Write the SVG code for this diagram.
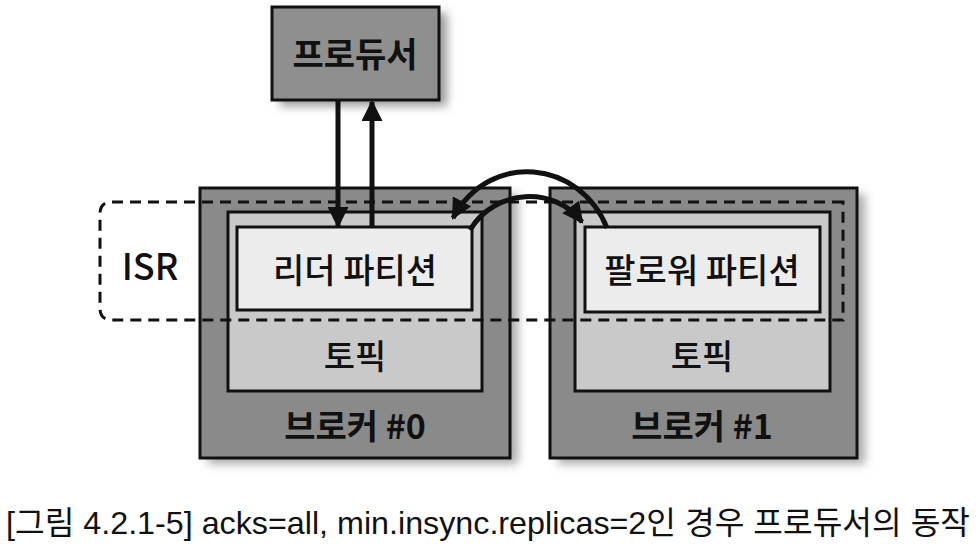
<svg xmlns="http://www.w3.org/2000/svg" width="980" height="552" viewBox="0 0 980 552">
<style>
.lbl{font-family:"Noto Sans CJK KR","Noto Sans",sans-serif;fill:#111;text-anchor:middle;dominant-baseline:central;font-weight:500}
.b{font-weight:bold}
.box{stroke:#111;stroke-width:3}
.conn{fill:none;stroke:#111;stroke-width:5}
</style>
<defs>
<marker id="ah" viewBox="0 0 10 10" refX="9" refY="5" markerWidth="4.2" markerHeight="4.2" orient="auto" markerUnits="strokeWidth">
<path d="M0,0 L10,5 L0,10 z" fill="#111"/>
</marker>
<filter id="sh" x="-10%" y="-10%" width="130%" height="130%">
<feGaussianBlur stdDeviation="5"/>
</filter>
</defs>
<rect width="980" height="552" fill="#fff"/>
<g id="producer">
<rect x="280" y="13" width="167" height="93" fill="#999" filter="url(#sh)"/>
<rect class="box" x="272" y="7" width="167" height="93" fill="#8f8f8f"/>
<text class="lbl b" x="355" y="52" font-size="34">프로듀서</text>
</g>
<g id="broker0">
<rect x="208" y="194" width="310" height="270" fill="#aaa" filter="url(#sh)"/>
<rect class="box" x="200" y="188" width="310" height="270" fill="#8a8a8a"/>
<rect class="box" x="228" y="212" width="254" height="179" fill="#c9c9c9"/>
<text class="lbl" x="355" y="354" font-size="34">토픽</text>
<text class="lbl b" x="355" y="424" font-size="34">브로커 #0</text>
</g>
<g id="leader">
<rect class="box" x="237" y="227" width="235" height="83" fill="#ececec"/>
<text class="lbl" x="355" y="268" font-size="34">리더 파티션</text>
</g>
<g id="broker1">
<rect x="558" y="194" width="307" height="270" fill="#aaa" filter="url(#sh)"/>
<rect class="box" x="550" y="188" width="307" height="270" fill="#8a8a8a"/>
<rect class="box" x="575" y="212" width="255" height="179" fill="#c9c9c9"/>
<text class="lbl" x="702" y="354" font-size="34">토픽</text>
<text class="lbl b" x="702" y="424" font-size="34">브로커 #1</text>
</g>
<g id="follower">
<rect class="box" x="585" y="227" width="235" height="85" fill="#ececec"/>
<text class="lbl" x="702" y="268" font-size="34">팔로워 파티션</text>
</g>
<g id="isr">
<path d="M843,202 L112,202 Q100,202 100,214 L100,308 Q100,320 112,320 L843,320 Z" fill="none" stroke="#111" stroke-width="3" stroke-dasharray="11,7"/>
<text class="lbl" x="150" y="264" font-size="36" font-family="Noto Sans,sans-serif">ISR</text>
</g>
<g id="connectors">
<line class="conn" x1="338" y1="100" x2="338" y2="226" marker-end="url(#ah)"/>
<line class="conn" x1="372" y1="227" x2="372" y2="102" marker-end="url(#ah)"/>
<path class="conn" d="M607,228 C580,160 490,150 453,218" marker-end="url(#ah)"/>
<path class="conn" d="M470,230 C495,188 555,186 582,222" marker-end="url(#ah)"/>
</g>
<text id="caption" x="6" y="523" font-family="Liberation Sans,Noto Sans CJK KR,sans-serif" font-size="32" fill="#111" dominant-baseline="central" textLength="964" lengthAdjust="spacingAndGlyphs">[그림 4.2.1-5] acks=all, min.insync.replicas=2인 경우 프로듀서의 동작</text>
</svg>
